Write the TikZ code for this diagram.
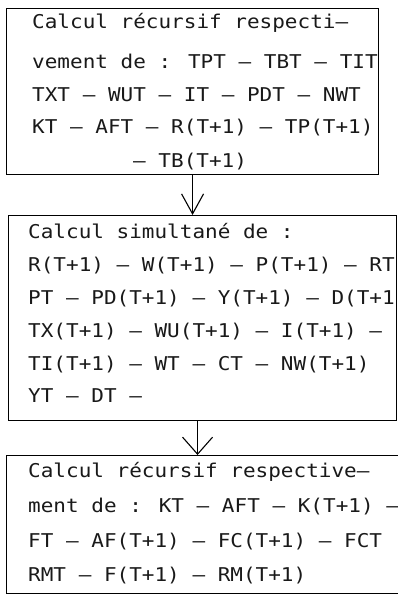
\documentclass[tikz,border=0pt]{standalone}
\usepackage{fontspec}
\newfontfamily\machine[FakeStretch=1.105,WordSpace={1,0,0}]{DejaVu Sans Mono}
\usetikzlibrary{arrows.meta}
\tikzset{
  cadre/.style={draw, line width=1.1pt, inner sep=0pt, anchor=north west},
  ligne/.style={anchor=base west, inner sep=0pt, text=black!90,
    font=\machine\fontsize{19}{19}\selectfont},
  fleche/.style 2 args={line width=1.1pt,
    -{Straight Barb[length=#1,width=#2,line width=1.1pt]}},
}
\begin{document}
\begin{tikzpicture}[x=1pt,y=-1pt]
        \useasboundingbox (0,0) rectangle (397,594);
        % les trois blocs
        \node[cadre, minimum width=372pt, minimum height=166pt] (bloc1) at (6,8) {};
        \node[cadre, minimum width=388pt, minimum height=205pt] (bloc2) at (8,215) {};
        \node[cadre, minimum width=400pt, minimum height=138pt] (bloc3) at (6,455) {};
        % textes
        \foreach \x/\y/\t [count=\i] in {32/29/{Calcul récursif respecti–},
            32/69/{vement de : TPT – TBT – TIT},
            32/101/{TXT – WUT – IT – PDT – NWT},
            32/133/{KT – AFT – R(T+1) – TP(T+1)},
            133/167/{– TB(T+1)}} {
            \node[ligne] (a\i) at (\x,\y) {\t};
        }
        \foreach \y/\t [count=\i] in {238/{Calcul simultané de :},
            271/{R(T+1) – W(T+1) – P(T+1) – RT},
            304/{PT – PD(T+1) – Y(T+1) – D(T+1},
            337/{TX(T+1) – WU(T+1) – I(T+1) –},
            370/{TI(T+1) – WT – CT – NW(T+1)},
            402/{YT – DT –}} {
            \node[ligne] (b\i) at (28,\y) {\t};
        }
        \foreach \y/\t [count=\i] in {477/{Calcul récursif respective–},
            512/{ment de : KT – AFT – K(T+1) –},
            547/{FT – AF(T+1) – FC(T+1) – FCT},
            581/{RMT – F(T+1) – RM(T+1)}} {
            \node[ligne] (c\i) at (28,\y) {\t};
        }
        % fleches
        \draw[fleche={20pt}{22pt}] (bloc1.south) -- (bloc1.south |- bloc2.north);
        \draw[fleche={17pt}{30pt}] ([xshift=-5pt]bloc2.south) coordinate (depart)
            -- (depart |- bloc3.north);
\end{tikzpicture}
\end{document}
